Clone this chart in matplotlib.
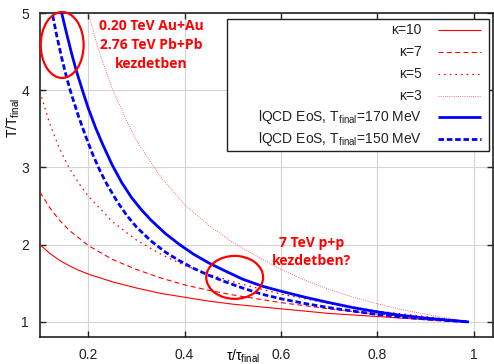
import matplotlib
matplotlib.use("Agg")
import matplotlib.pyplot as plt
from matplotlib.patches import Ellipse, Rectangle

plt.rcParams['font.family'] = ['Liberation Sans', 'DejaVu Sans']
plt.rcParams['mathtext.fontset'] = 'custom'
plt.rcParams['mathtext.rm'] = 'Liberation Sans'
plt.rcParams['mathtext.it'] = 'Liberation Sans'

# --- data: T/T_final versus tau/tau_final ---
x_red = [0.10, 0.12, 0.14, 0.16, 0.18, 0.20, 0.25, 0.30, 0.35, 0.40, 0.45,
         0.50, 0.60, 0.70, 0.80, 0.90, 0.99]
kappa10 = [2.00, 1.89, 1.80, 1.73, 1.67, 1.62, 1.52, 1.44, 1.37, 1.32, 1.27,
           1.23, 1.17, 1.11, 1.07, 1.03, 1.00]
kappa7 = [2.68, 2.48, 2.32, 2.19, 2.09, 1.99, 1.81, 1.68, 1.57, 1.48, 1.41,
          1.35, 1.25, 1.17, 1.10, 1.05, 1.00]
kappa5 = [3.98, 3.57, 3.25, 3.00, 2.80, 2.63, 2.30, 2.06, 1.88, 1.73, 1.62,
          1.52, 1.36, 1.24, 1.14, 1.07, 1.00]

x_k3 = [0.195, 0.20, 0.22, 0.25, 0.28, 0.30, 0.35, 0.40, 0.45, 0.50, 0.55,
        0.60, 0.65, 0.70, 0.75, 0.80, 0.85, 0.90, 0.95, 0.99]
kappa3 = [5.12, 5.00, 4.55, 4.02, 3.60, 3.35, 2.88, 2.52, 2.25, 2.03, 1.85,
          1.68, 1.54, 1.42, 1.32, 1.235, 1.16, 1.10, 1.045, 1.00]

x_170 = [0.14, 0.145, 0.155, 0.165, 0.175, 0.188, 0.20, 0.215, 0.23, 0.25,
         0.27, 0.29, 0.31, 0.33, 0.36, 0.39, 0.42, 0.45, 0.48, 0.52, 0.56,
         0.60, 0.65, 0.70, 0.75, 0.80, 0.85, 0.90, 0.95, 0.99]
lqcd_170 = [5.13, 5.00, 4.74, 4.49, 4.26, 4.00, 3.77, 3.52, 3.30, 3.03,
            2.80, 2.61, 2.455, 2.32, 2.145, 2.00, 1.872, 1.765, 1.673, 1.555,
            1.465, 1.398, 1.32, 1.25, 1.185, 1.13, 1.085, 1.05, 1.022, 1.00]

x_150 = [0.12, 0.125, 0.135, 0.145, 0.155, 0.165, 0.18, 0.195, 0.21, 0.225,
         0.24, 0.26, 0.28, 0.30, 0.33, 0.36, 0.39, 0.42, 0.45, 0.48, 0.52,
         0.56, 0.60, 0.65, 0.70, 0.75, 0.80, 0.85, 0.90, 0.95, 0.99]
lqcd_150 = [5.18, 5.01, 4.70, 4.42, 4.17, 3.95, 3.66, 3.40, 3.16, 2.95,
            2.77, 2.56, 2.38, 2.23, 2.05, 1.905, 1.79, 1.69, 1.605, 1.53, 1.44,
            1.36, 1.30, 1.238, 1.185, 1.14, 1.097, 1.063, 1.038, 1.017, 1.00]

x_ticks = [0.2, 0.4, 0.6, 0.8, 1.0]
x_tick_labels = ['0.2', '0.4', '0.6', '0.8', '1']
y_ticks = [1, 2, 3, 4, 5]

legend_labels = [r'κ=10', r'κ=7', r'κ=5', r'κ=3',
                 r'lQCD EoS, T$_{\mathregular{final}}$=170 MeV',
                 r'lQCD EoS, T$_{\mathregular{final}}$=150 MeV']

RED = '#ff0000'
BLUE = '#0000ff'

fig = plt.figure(figsize=(4.94, 3.64), dpi=100)
ax = fig.add_axes([40 / 494, 27 / 364, 453 / 494, 324 / 364])

styles = [
    dict(color=RED, lw=0.8, ls='-'),
    dict(color=RED, lw=0.8, ls=(0, (4.5, 3))),
    dict(color=RED, lw=0.9, ls=(0, (1.3, 3.2))),
    dict(color='#ff4040', lw=0.6, ls=(0, (1.0, 1.6))),
    dict(color=BLUE, lw=2.0, ls='-'),
    dict(color=BLUE, lw=2.0, ls=(0, (2.0, 1.0))),
]
series = [(x_red, kappa10), (x_red, kappa7), (x_red, kappa5), (x_k3, kappa3),
          (x_170, lqcd_170), (x_150, lqcd_150)]

for (xs, ys), st in zip(series, styles):
    ax.plot(xs, ys, solid_capstyle='butt', dash_capstyle='butt',
            solid_joinstyle='round', zorder=3, **st)

ax.set_xlim(0.1, 1.04)
ax.set_ylim(0.805, 5.0)
ax.set_xticks(x_ticks)
ax.set_xticklabels(x_tick_labels)
ax.set_yticks(y_ticks)
ax.grid(True, color='#d4d4d4', lw=0.8)
ax.set_axisbelow(True)
ax.tick_params(direction='in', length=4, width=1.0, top=True, right=True,
               labelsize=10, pad=8, colors='#222222')
for sp in ax.spines.values():
    sp.set_linewidth(1.2)
    sp.set_color('#222222')

ax.set_xlabel(r'τ/τ$_{\mathregular{final}}$', fontsize=10)
ax.xaxis.set_label_coords(203 / 453, -0.033)
ax.set_ylabel(r'T/T$_{\mathregular{final}}$', fontsize=10)
ax.yaxis.set_label_coords(-0.040, 0.676)

# legend box drawn by hand: right-aligned labels with line samples after them
ax.add_patch(Rectangle((187 / 453, 186 / 324), 262 / 453, 132 / 324,
                       transform=ax.transAxes, facecolor='white',
                       edgecolor='#222222', lw=1.0, zorder=5))
row_px = [30, 52, 74, 96, 117, 139]
for lab, st, py in zip(legend_labels, styles, row_px):
    yy = (337 - py) / 324
    ax.text(381.7 / 453, yy, lab, transform=ax.transAxes, ha='right',
            va='center', fontsize=10, color='#222222', zorder=6)
    ax.plot([398 / 453, 441 / 453], [yy, yy], transform=ax.transAxes,
            clip_on=False, zorder=6, solid_capstyle='butt',
            dash_capstyle='butt', **st)

# highlighted regions
ax.add_patch(Ellipse((0.146, 4.586), 0.089, 0.854, fill=False,
                     edgecolor=RED, lw=1.6, clip_on=False, zorder=7))
ax.add_patch(Ellipse((0.504, 1.577), 0.118, 0.556, fill=False,
                     edgecolor=RED, lw=1.6, zorder=7))

ax.text(0.331, 4.586, '0.20 TeV Au+Au\n2.76 TeV Pb+Pb\nkezdetben',
        ha='center', va='center', color=RED, fontsize=10,
        fontweight='bold', family='Open Sans', linespacing=1.42, zorder=7)
ax.text(0.663, 1.909, '7 TeV p+p\nkezdetben?',
        ha='center', va='center', color=RED, fontsize=10,
        fontweight='bold', family='Open Sans', linespacing=1.35, zorder=7)

fig.savefig('out.png', dpi=100)
